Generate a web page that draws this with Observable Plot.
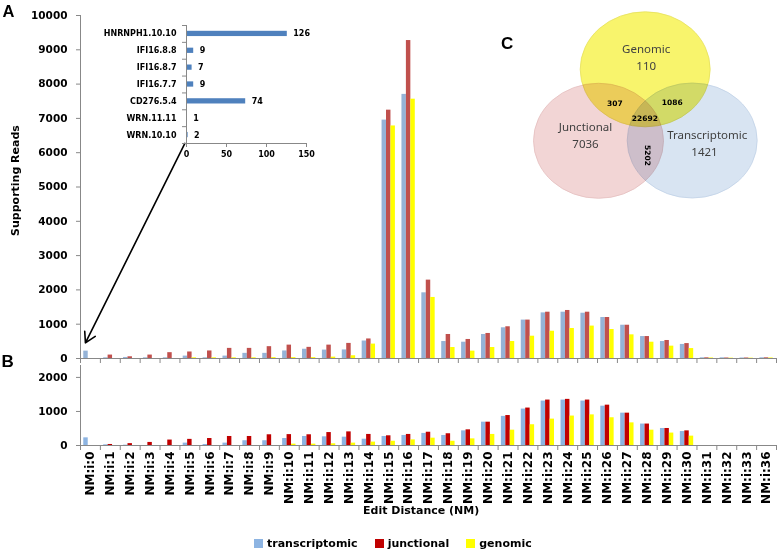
<!DOCTYPE html>
<html><head><meta charset="utf-8">
<script src="https://cdn.jsdelivr.net/npm/d3@7"></script>
<script src="https://cdn.jsdelivr.net/npm/@observablehq/plot@0.6"></script>
<style>
body{margin:0;background:#fff;}
#root{position:relative;width:778px;height:550px;overflow:hidden;background:#fff;font-family:"DejaVu Sans",sans-serif;}
#root > *{position:absolute;margin:0;}
#root svg{overflow:visible;background:transparent;}
.plbl{font-family:"Liberation Sans",Arial,sans-serif;font-weight:bold;font-size:17px;line-height:17px;color:#000;}
.ttl{font-family:"DejaVu Sans",sans-serif;font-weight:bold;font-size:11px;line-height:11px;color:#000;white-space:nowrap;}
#root g[aria-label="y-axis tick"], #root g[aria-label="x-axis tick"]{stroke:#888;}
#root .pb g[aria-label="x-axis tick label"]{font-size:12px;}
#root [class$="-swatch"]{margin-right:17px !important;}
#root [class$="-swatch"] > svg{margin-right:4px !important;}
</style></head>
<body><div id="root"></div>
<script>
// ---------- data ----------
const cats = ["NM:i:0","NM:i:1","NM:i:2","NM:i:3","NM:i:4","NM:i:5","NM:i:6","NM:i:7","NM:i:8","NM:i:9",
  "NM:i:10","NM:i:11","NM:i:12","NM:i:13","NM:i:14","NM:i:15","NM:i:16","NM:i:17","NM:i:18","NM:i:19",
  "NM:i:20","NM:i:21","NM:i:22","NM:i:23","NM:i:24","NM:i:25","NM:i:26","NM:i:27","NM:i:28","NM:i:29",
  "NM:i:30","NM:i:31","NM:i:32","NM:i:33","NM:i:36"];
const series = ["transcriptomic","junctional","genomic"];

const aTranscriptomic = [215,20,30,20,20,70,20,70,150,150,220,270,245,250,510,6950,7700,1915,495,475,700,895,1120,1330,1350,1320,1195,970,640,495,410,20,20,15,20];
const aJunctional     = [0,100,50,100,170,190,220,295,295,345,390,325,390,440,570,7240,9270,2285,700,555,730,925,1120,1350,1400,1350,1195,970,640,525,435,20,15,15,20];
const aGenomic        = [0,0,0,0,0,20,20,20,20,25,25,25,40,80,420,6780,7560,1780,320,215,320,495,650,795,875,945,845,690,475,360,290,15,10,10,15];

const bTranscriptomic = [225,20,10,0,0,70,30,70,140,140,205,265,255,245,185,265,295,355,295,430,685,855,1070,1305,1335,1305,1155,950,630,500,410,0,0,0,0];
const bJunctional     = [0,30,55,90,160,180,205,265,265,315,320,315,380,400,325,285,325,390,345,460,685,880,1100,1335,1355,1335,1185,950,630,500,430,0,0,0,0];
const bGenomic        = [0,0,0,0,0,0,0,0,0,0,40,40,50,70,100,125,165,215,125,195,325,450,610,775,865,900,815,665,450,365,275,0,0,0,0];

const yTicksA = [0,1000,2000,3000,4000,5000,6000,7000,8000,9000,10000];
const yTicksB = [0,1000,2000];

const insetNames  = ["HNRNPH1.10.10","IFI16.8.8","IFI16.8.7","IFI16.7.7","CD276.5.4","WRN.11.11","WRN.10.10"];
const insetValues = [126,9,7,9,74,1,2];
const insetTicks  = [0,50,100,150];

const vennSets   = ["Genomic","Junctional","Transcriptomic"];
const vennUnique = [110,7036,1421];
const vennPairs  = ["307","1086","22692","5202"]; // G∩J, G∩T, all, J∩T

// arrow annotation: from inset origin down to NM:i:0 bar
const arrowNote = [{from: "NM:i:5", fromValue: 6270, to: "NM:i:0", toValue: 455}];

// ---------- styles / layout ----------
const colorsA = ["#95b3d7","#c0504d","#ffff00"];
const colorsB = ["#8db4e2","#c00000","#ffff00"];
const W = 778, ML = 80, MR = 2;
const bw = (W - ML - MR) / cats.length;
const barW = 4.45;
const axisGray = "#888";
const font = {fontFamily: "DejaVu Sans", fontSize: "10.5px", fontWeight: "bold", color: "#000", background: "transparent"};

function rows(arrs) {
  return series.flatMap((s, si) => cats.map((c, i) => ({cat: c, series: s, value: arrs[si][i]})));
}
function groupBars(data, colors) {
  return series.map((s, si) => Plot.barY(data.filter(d => d.series === s), {
    x: "cat", y: "value", fill: colors[si],
    insetLeft: (bw - barW) / 2, insetRight: (bw - barW) / 2, dx: (si - 1) * barW
  }));
}
function frameMarks() {
  return [
    Plot.ruleY([0], {stroke: axisGray}),
    Plot.ruleX(cats.slice(0, 1), {x: d => d, dx: -bw / 2, stroke: axisGray}),
    Plot.ruleX(cats, {x: d => d, y1: 0, y2: 0, dx: -bw / 2, insetBottom: -5, stroke: axisGray}),
    Plot.ruleX(cats.slice(-1), {x: d => d, y1: 0, y2: 0, dx: bw / 2, insetBottom: -5, stroke: axisGray})
  ];
}

const root = document.getElementById("root");
function place(el, left, top, cls) {
  el.style.position = "absolute";
  el.style.left = left + "px";
  el.style.top = top + "px";
  if (cls) el.classList.add(cls);
  root.appendChild(el);
  return el;
}

// ---------- Panel A ----------
const dataA = rows([aTranscriptomic, aJunctional, aGenomic]);
const plotA = Plot.plot({
  width: W, height: 366, marginLeft: ML, marginRight: MR, marginTop: 15, marginBottom: 8,
  style: font,
  x: {domain: cats, padding: 0, round: false, axis: null},
  y: {domain: [0, 10000], ticks: yTicksA, tickFormat: d => String(d), tickSize: 4, tickPadding: 9, label: null},
  marks: [
    ...groupBars(dataA, colorsA),
    ...frameMarks(),
    Plot.arrow(arrowNote, {x1: "from", y1: "fromValue", x2: "to", y2: "toValue", dx: -5,
      stroke: "#000", strokeWidth: 1.6, headLength: 11, bend: 0})
  ]
});
place(plotA, 0, 0, "pa");

// ---------- Panel B ----------
const dataB = rows([bTranscriptomic, bJunctional, bGenomic]);
const plotB = Plot.plot({
  width: W, height: 150, marginLeft: ML, marginRight: MR, marginTop: 5, marginBottom: 65,
  style: font,
  x: {domain: cats, padding: 0, round: false, tickRotate: -90, tickSize: 0, tickPadding: 6, label: null},
  y: {domain: [0, 2350], ticks: yTicksB, tickFormat: d => String(d), tickSize: 4, tickPadding: 9, label: null},
  marks: [
    ...groupBars(dataB, colorsB),
    ...frameMarks()
  ]
});
place(plotB, 0, 360, "pb");

// ---------- Inset ----------
const insetRows = insetNames.map((n, i) => ({name: n, value: insetValues[i]}));
const ibw = (170 - 25 - 27) / insetNames.length;
const inset = Plot.plot({
  width: 320, height: 170, marginLeft: 186, marginRight: 14, marginTop: 25, marginBottom: 27,
  style: {fontFamily: "DejaVu Sans", fontSize: "8px", fontWeight: "bold", color: "#000", background: "transparent"},
  x: {domain: [0, 150], ticks: insetTicks, tickSize: 4, tickPadding: 4, label: null},
  y: {domain: insetNames, padding: 0, round: false, tickSize: 0, tickPadding: 10, label: null},
  marks: [
    Plot.barX(insetRows, {x: "value", y: "name", fill: "#4f81bd", insetTop: 5.8, insetBottom: 5.8}),
    Plot.text(insetRows, {x: "value", y: "name", text: d => String(d.value), dx: 6, textAnchor: "start"}),
    Plot.ruleX([0], {stroke: axisGray}),
    Plot.ruleY(insetNames.slice(-1), {y: d => d, dy: ibw / 2, stroke: axisGray}),
    Plot.ruleY(insetNames, {y: d => d, x1: 0, x2: 0, dy: -ibw / 2, insetLeft: -4, stroke: axisGray}),
    Plot.ruleY(insetNames.slice(-1), {y: d => d, x1: 0, x2: 0, dy: ibw / 2, insetLeft: -4, stroke: axisGray})
  ]
});
place(inset, 0, 0, "pi");

// ---------- Venn ----------
const vennLayout = [
  {set: "Junctional",     cx: 598,   cy: 140.3, fill: "#f2d5d5", stroke: "#e3bcbc"},
  {set: "Transcriptomic", cx: 691.7, cy: 140,   fill: "#d8e4f2", stroke: "#bfd1e6"},
  {set: "Genomic",        cx: 644.7, cy: 68.8,  fill: "#f8f46c", stroke: "#e5df5a"}
];
const vennLabelPos = {
  Genomic: [645.7, 49.3, 645.7, 66],
  Junctional: [585, 127.3, 585, 144],
  Transcriptomic: [706.7, 135, 704, 152.3]
};
const vennNameText = vennSets.map((s, i) => ({x: vennLabelPos[s][0], y: vennLabelPos[s][1], t: s}));
const vennNumText = vennSets.map((s, i) => ({x: vennLabelPos[s][2], y: vennLabelPos[s][3], t: String(vennUnique[i])}));
const pairPos = [[614.3, 103.3, 0], [671.7, 101.7, 0], [644.3, 118.3, 0], [646.7, 155, 90]];
const vennPairText = vennPairs.map((t, i) => ({x: pairPos[i][0], y: pairPos[i][1], r: pairPos[i][2], t}));

const venn = Plot.plot({
  width: 278, height: 210, margin: 0,
  style: {fontFamily: "Noto Sans", background: "transparent", color: "#404040"},
  x: {domain: [500, 778], range: [0, 278], axis: null},
  y: {domain: [0, 210], range: [0, 210], axis: null},
  marks: [
    Plot.dot(vennLayout, {x: "cx", y: "cy", r: 65, fill: "fill", stroke: "stroke", strokeWidth: 0.8}),
    Plot.text(vennNameText, {x: "x", y: "y", text: "t", fontSize: 11.5, fill: "#404040"}),
    Plot.text(vennNumText, {x: "x", y: "y", text: "t", fontSize: 11.5, fill: "#404040"}),
    Plot.text(vennPairText.filter(d => d.r === 0), {x: "x", y: "y", text: "t", fontSize: 7.5, fontWeight: "bold", fontFamily: "DejaVu Sans", fill: "#000"}),
    Plot.text(vennPairText.filter(d => d.r !== 0), {x: "x", y: "y", text: "t", rotate: 90, fontSize: 7.5, fontWeight: "bold", fontFamily: "DejaVu Sans", fill: "#000"})
  ]
});
d3.select(venn).selectAll("circle").each(function() {
  const cx = +this.getAttribute("cx"), cy = +this.getAttribute("cy");
  d3.select(this)
    .attr("transform", `translate(${cx},${cy}) scale(1,0.885) translate(${-cx},${-cy})`)
    .style("mix-blend-mode", "multiply");
});
place(venn, 500, 0, "pv");

// ---------- Legend ----------
const legend = Plot.legend({
  color: {type: "ordinal", domain: series, range: colorsB},
  legend: "swatches", swatchSize: 9,
  style: {fontFamily: "DejaVu Sans", fontSize: "11px", fontWeight: "bold", color: "#000"}
});
place(legend, 254, 526.5, "pl");

// ---------- Titles & panel labels ----------
function textDiv(txt, cls, left, top, extra) {
  const d = document.createElement("div");
  d.className = cls; d.textContent = txt;
  d.style.position = "absolute"; d.style.left = left + "px"; d.style.top = top + "px";
  if (extra) Object.assign(d.style, extra);
  root.appendChild(d);
  return d;
}
textDiv("A", "plbl", 2.5, 2.5, {fontSize: "16.5px"});
textDiv("B", "plbl", 1.5, 353);
textDiv("C", "plbl", 501, 34.5);
textDiv("Edit Distance (NM)", "ttl", 363, 505.4);
textDiv("Supporting Reads", "ttl", -50, 174.5, {width: "130px", textAlign: "center", transform: "rotate(-90deg)", transformOrigin: "50% 50%"});
</script></body></html>
